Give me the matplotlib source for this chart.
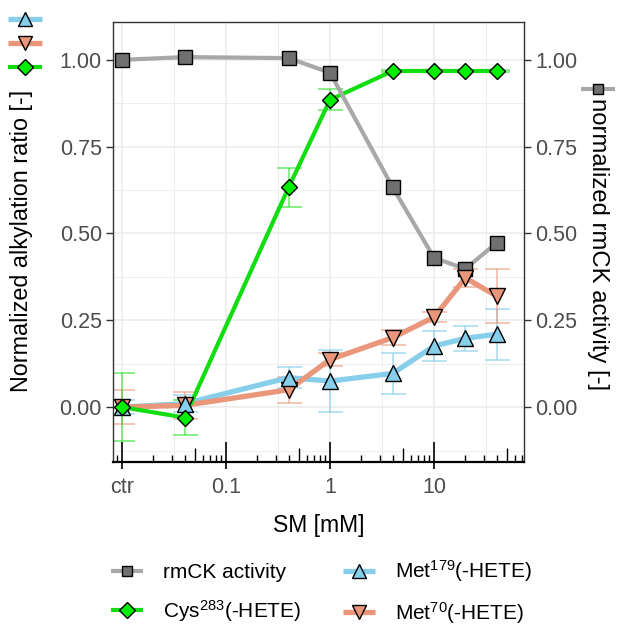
import matplotlib
matplotlib.use("Agg")
import matplotlib.pyplot as plt
import matplotlib.transforms as mtransforms
from matplotlib.lines import Line2D
import numpy as np

plt.rcParams['font.family'] = ['Liberation Sans', 'DejaVu Sans']
plt.rcParams['mathtext.fontset'] = 'custom'
plt.rcParams['mathtext.rm'] = 'Liberation Sans'
plt.rcParams['mathtext.it'] = 'Liberation Sans:italic'

# concentrations (ctr drawn at 0.01)
sm = [0.01, 0.04, 0.4, 1, 4, 10, 20, 40]
xtick_pos = [0.01, 0.1, 1, 10]
xtick_lab = ['ctr', '0.1', '1', '10']
ytick_pos = [0, 0.25, 0.5, 0.75, 1.0]
ytick_lab = ['0.00', '0.25', '0.50', '0.75', '1.00']

rmck = [1.00, 1.008, 1.005, 0.963, 0.633, 0.43, 0.398, 0.473]
cys283 = [0.0, -0.03, 0.633, 0.885, 0.968, 0.968, 0.968, 0.968]
cys283_err = [0.097, 0.05, 0.056, 0.03, 0.003, 0.003, 0.003, 0.003]
met179 = [0.0, 0.01, 0.085, 0.075, 0.097, 0.176, 0.198, 0.21]
met179_err = [0.02, 0.025, 0.03, 0.09, 0.06, 0.043, 0.037, 0.074]
met70 = [0.0, 0.005, 0.05, 0.137, 0.2, 0.259, 0.372, 0.32]
met70_err = [0.05, 0.04, 0.038, 0.02, 0.022, 0.015, 0.025, 0.077]

gray_l, gray_f = '#A8A8A8', '#707070'
green_l, green_f = '#11DD11', '#00EE00'
blue = '#87CEEB'
salmon = '#E9967A'

fig = plt.figure(figsize=(6.24, 6.26), dpi=100)
ax = fig.add_axes([113/624, 1-462/626, (524-113)/624, (462-22)/626])

# grid
ax.set_xscale('log')
ax.set_xlim(10**-2.087, 10**1.865)
ax.set_ylim(-0.158, 1.109)
for v in [10**-1.5, 10**-0.5, 10**0.5, 10**1.5]:
    ax.axvline(v, color='#EBEBEB', lw=0.6, zorder=0)
for v in xtick_pos:
    ax.axvline(v, color='#EBEBEB', lw=1.1, zorder=0)
for v in [-0.125, 0.125, 0.375, 0.625, 0.875]:
    ax.axhline(v, color='#EBEBEB', lw=0.6, zorder=0)
for v in ytick_pos:
    ax.axhline(v, color='#EBEBEB', lw=1.1, zorder=0)

# error bars
cap = 9
ax.errorbar(sm, met179, yerr=met179_err, fmt='none', ecolor=blue, alpha=0.6,
            elinewidth=1.4, capsize=cap, capthick=1.4, zorder=2)
ax.errorbar(sm, met70, yerr=met70_err, fmt='none', ecolor=salmon, alpha=0.55,
            elinewidth=1.4, capsize=cap, capthick=1.4, zorder=2)
ax.errorbar(sm, cys283, yerr=cys283_err, fmt='none', ecolor=green_l, alpha=0.5,
            elinewidth=1.4, capsize=cap, capthick=1.4, zorder=2)

# lines
ax.plot(sm, met179, color=blue, lw=3.8, zorder=3, solid_capstyle='butt')
ax.plot(sm, met70, color=salmon, lw=3.8, zorder=3, solid_capstyle='butt')
ax.plot(sm, cys283, color=green_l, lw=3.0, zorder=3, solid_capstyle='butt')
ax.plot(sm, rmck, color=gray_l, lw=3.0, zorder=3, solid_capstyle='butt')

# markers
mk = dict(ls='none', mec='black', mew=1.0, zorder=4)
ax.plot(sm, rmck, marker='s', ms=9.5, mfc=gray_f, **mk)
ax.plot(sm, met70, marker='v', ms=11, mfc=salmon, **mk)
ax.plot(sm, met179, marker='^', ms=11, mfc=blue, **mk)
ax.plot(sm, cys283, marker='D', ms=8.5, mfc=green_f, **mk)

# log ticks inside bottom
trans = mtransforms.blended_transform_factory(ax.transData, ax.transAxes)
h = 1 / (462 - 22)
for dec in [0.001, 0.01, 0.1, 1, 10]:
    for m in range(1, 10):
        v = dec * m
        if v < 10**-2.087 or v > 10**1.865:
            continue
        ln = 20 if m == 1 else (14 if m == 5 else 7)
        ax.plot([v, v], [0, ln * h], color='black', lw=1.2 if m == 1 else 1.0,
                transform=trans, zorder=5, clip_on=False, solid_capstyle='butt')

ax.set_xticks(xtick_pos)
ax.set_xticklabels(xtick_lab)
ax.xaxis.set_minor_locator(matplotlib.ticker.NullLocator())
ax.set_yticks(ytick_pos)
ax.set_yticklabels(ytick_lab)
ax.tick_params(axis='x', length=5, width=1.2, color='black', labelsize=15.5,
               labelcolor='#4D4D4D', pad=5.5)
ax.tick_params(axis='y', length=5, width=1.0, color='#333333', labelsize=15.5,
               labelcolor='#4D4D4D', pad=3)
for s in ['left', 'right', 'top']:
    ax.spines[s].set_color('#333333')
    ax.spines[s].set_linewidth(1.0)
ax.spines['bottom'].set_color('black')
ax.spines['bottom'].set_linewidth(1.6)

ax.set_xlabel('SM [mM]', fontsize=16.5)
ax.xaxis.set_label_coords(0.5, -0.118)
ax.set_ylabel('Normalized alkylation ratio [-]', fontsize=16.8, va='center')
ax.yaxis.set_label_coords(-0.222, 0.502)

ax2 = ax.twinx()
ax2.set_ylim(ax.get_ylim())
ax2.set_yticks(ytick_pos)
ax2.set_yticklabels(ytick_lab)
ax2.tick_params(axis='y', length=5, width=1.0, color='#333333', labelsize=15.5,
                labelcolor='#4D4D4D', pad=3)
ax2.set_ylabel('normalized rmCK activity [-]', fontsize=17.2, rotation=-90,
               va='center')
ax2.yaxis.set_label_coords(1.18, 0.495)
for s in ax2.spines.values():
    s.set_visible(False)

# legend handles
def hnd(lc, lw, mkr, mfc, ms):
    return Line2D([], [], color=lc, lw=lw, marker=mkr, mfc=mfc, mec='black',
                  mew=1.0, ms=ms, solid_capstyle='butt')

h_rm = hnd(gray_l, 3.0, 's', gray_f, 7)
h_cys = hnd(green_l, 3.0, 'D', green_f, 8)
h_179 = hnd(blue, 3.8, '^', blue, 9.5)
h_70 = hnd(salmon, 3.8, 'v', salmon, 9.5)

fig.legend([h_rm, h_cys, h_179, h_70],
           ['rmCK activity', 'Cys$^{283}$(-HETE)', 'Met$^{179}$(-HETE)', 'Met$^{70}$(-HETE)'],
           ncol=2, loc='center', bbox_to_anchor=(322/624, 1-592/626), frameon=False,
           fontsize=15, handlelength=1.5, handletextpad=1.0, columnspacing=2.0,
           labelspacing=0.75)

fig.legend([h_179, h_70, h_cys], ['', '', ''], loc='center',
           bbox_to_anchor=(25/624, 1-45/626), frameon=False, fontsize=14,
           handlelength=1.7, handletextpad=0, labelspacing=0.33, borderpad=0)

fig.legend([h_rm], [''], loc='center', bbox_to_anchor=(598/624, 1-91/626),
           frameon=False, fontsize=14, handlelength=1.7, handletextpad=0,
           borderpad=0)

fig.savefig('out.png', dpi=100, facecolor='white')
